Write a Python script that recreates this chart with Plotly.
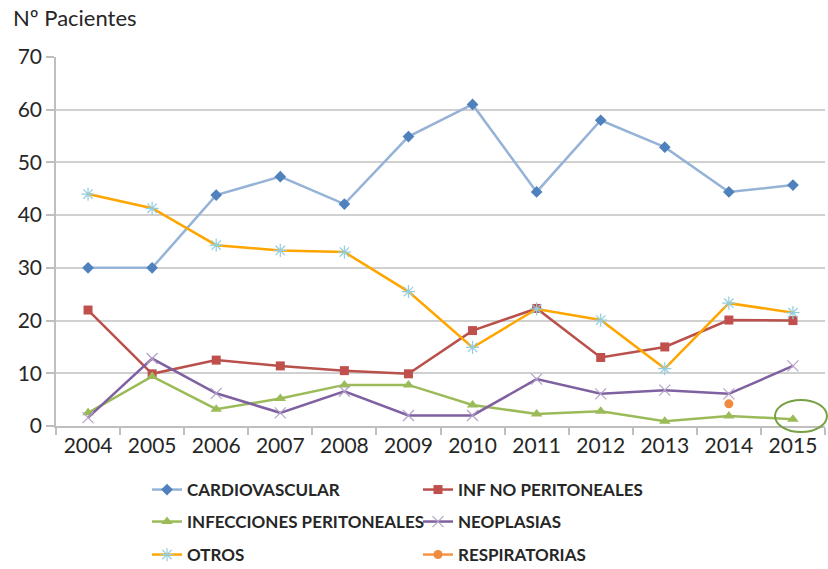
import plotly.graph_objects as go

years = ["2004", "2005", "2006", "2007", "2008", "2009", "2010", "2011", "2012", "2013", "2014", "2015"]

cardiovascular = [30, 30, 43.8, 47.3, 42.1, 54.9, 61, 44.4, 58, 52.9, 44.4, 45.7]
inf_no_peritoneales = [22, 9.9, 12.5, 11.4, 10.5, 9.9, 18.1, 22.3, 13, 15, 20.1, 20]
infecciones_peritoneales = [2.5, 9.4, 3.2, 5.2, 7.8, 7.8, 4, 2.3, 2.8, 0.9, 1.9, 1.3]
neoplasias = [1.6, 12.8, 6.2, 2.5, 6.6, 2, 2, 8.9, 6.1, 6.8, 6.1, 11.4]
otros = [44, 41.3, 34.3, 33.3, 33, 25.5, 14.9, 22.2, 20.1, 10.9, 23.3, 21.5]
respiratorias = [None, None, None, None, None, None, None, None, None, None, 4.2, None]

FONT = "Lato"
TXT = "#262626"

fig = go.Figure()

def add(name, y, line_color, symbol, marker_color, msize, legend, mline=None):
    marker = dict(symbol=symbol, color=marker_color, size=msize)
    if mline:
        marker["line"] = dict(color=marker_color, width=mline)
    fig.add_trace(go.Scatter(
        x=years, y=y, name=name, mode="lines+markers",
        line=dict(color=line_color, width=2.5),
        marker=marker, legend=legend, connectgaps=False,
    ))

add("CARDIOVASCULAR", cardiovascular, "#95B3D7", "diamond", "#4F81BD", 9, "legend")
add("INF NO PERITONEALES", inf_no_peritoneales, "#B9504C", "square", "#C0504D", 9, "legend")
add("INFECCIONES PERITONEALES", infecciones_peritoneales, "#9BBB59", "triangle-up", "#9BBB59", 10, "legend2")
add("NEOPLASIAS", neoplasias, "#7F60A0", "x-thin-open", "#B3A2C7", 11, "legend2", mline=1.2)
add("OTROS", otros, "#FFA500", "asterisk-open", "#93CDDD", 11, "legend3", mline=1.2)
add("RESPIRATORIAS", respiratorias, "#F79646", "circle", "#F08A3E", 9, "legend3")

L, R, T, B = 56, 3, 57, 143
W, H = 828, 569
pw = W - L - R
ph = H - T - B

def py(pix):
    return (H - B - pix) / ph

def px(pix):
    return (pix - L) / pw

leg_common = dict(orientation="h", xanchor="left", yanchor="middle",
                  entrywidth=226, entrywidthmode="pixels",
                  font=dict(family=FONT, size=17, color=TXT, weight="bold"),
                  bgcolor="rgba(0,0,0,0)", itemclick=False)
lx = px(147)

fig.update_layout(
    width=W, height=H,
    margin=dict(l=L, r=R, t=T, b=B, autoexpand=False),
    paper_bgcolor="white", plot_bgcolor="white",
    font=dict(family=FONT, size=20, color=TXT),
    legend=dict(x=lx, y=py(490), **leg_common),
    legend2=dict(x=lx, y=py(522), **leg_common),
    legend3=dict(x=lx, y=py(555), **leg_common),
    xaxis=dict(
        type="category", range=[-0.5, 11.5], automargin=False,
        showgrid=False, showline=True, linecolor="#BFBFBF", linewidth=1.5,
        ticks="outside", tickson="boundaries", ticklen=7, tickcolor="#BFBFBF", tickwidth=1.5,
        tickfont=dict(family=FONT, size=21, color=TXT),
    ),
    yaxis=dict(
        range=[0, 70], dtick=10, tick0=0, automargin=False,
        showgrid=True, gridcolor="#D0D0D0", gridwidth=1.5,
        showline=True, linecolor="#BFBFBF", linewidth=1.5,
        ticks="outside", ticklen=8, tickcolor="#BFBFBF", tickwidth=1.5,
        zeroline=False,
        tickfont=dict(family=FONT, size=21, color=TXT),
    ),
    annotations=[dict(
        text="Nº Pacientes", xref="paper", yref="paper",
        x=px(11), y=py(18), xanchor="left", yanchor="middle",
        showarrow=False, font=dict(family=FONT, size=22, color=TXT),
    )],
    shapes=[dict(
        type="circle", xref="paper", yref="paper",
        x0=px(775), x1=px(827), y0=py(432), y1=py(400),
        line=dict(color="#77A043", width=2), fillcolor="rgba(0,0,0,0)",
    )],
)

fig.write_html("out.html", config={"displayModeBar": False},
               post_script="document.body.style.margin='0';document.body.style.overflow='hidden';")
